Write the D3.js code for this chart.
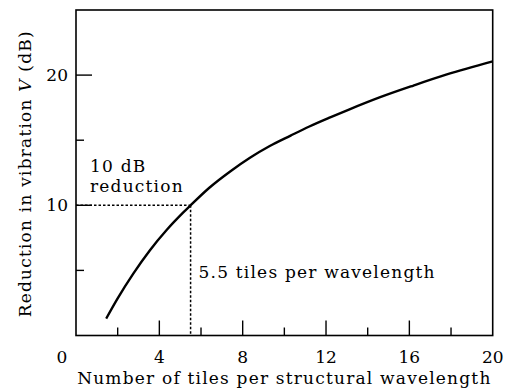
<!DOCTYPE html>
<html>
<head>
<meta charset="utf-8">
<script src="https://cdn.jsdelivr.net/npm/d3@7"></script>
<style>
  html, body { margin: 0; padding: 0; background: #fff; }
  svg { display: block; }
  text { font-family: "DejaVu Serif", "Liberation Serif", serif; fill: #000; }
</style>
</head>
<body>
<svg id="chart" width="506" height="392"></svg>
<script>
// Tiles per structural wavelength (x) and vibration reduction in dB (y)
const tiles = [1.45, 2, 2.75, 3.55, 4.35, 5.15, 5.5, 6.4, 7.4, 8.35, 9.3, 10.3, 11.2, 12.2, 13.1, 14.6, 16.2, 17.8, 20];
const reduction = [1.3, 2.85, 4.75, 6.55, 8.1, 9.45, 10, 11.35, 12.6, 13.65, 14.55, 15.35, 16.05, 16.75, 17.35, 18.3, 19.2, 20.05, 21.05];

// Marked operating point: 10 dB reduction at 5.5 tiles per wavelength
const markTiles = [5.5];
const markReduction = [10];

const xMajorTicks = [4, 8, 12, 16];
const xMinorTicks = [2, 6, 10, 14, 18];
const xTickLabels = [0, 4, 8, 12, 16, 20];
const yMajorTicks = [10, 20];
const yMinorTicks = [5, 15];
const yTickLabels = [10, 20];

const svg = d3.select("#chart");
const plotLeft = 76, plotRight = 492.7, plotTop = 10, plotBottom = 335.5;
const fs = 17, ls = 1.2;

const x = d3.scaleLinear().domain([0, 20]).range([plotLeft, plotRight]);
const y = d3.scaleLinear().domain([0, 25]).range([plotBottom, plotTop]);

// Frame
svg.append("rect")
  .attr("x", plotLeft).attr("y", plotTop)
  .attr("width", plotRight - plotLeft).attr("height", plotBottom - plotTop)
  .attr("fill", "none").attr("stroke", "#000").attr("stroke-width", 1.6);

// Inward ticks on the bottom axis
const g = svg.append("g").attr("stroke", "#000").attr("stroke-width", 1.4);
g.selectAll("line.xmaj").data(xMajorTicks).join("line")
  .attr("x1", d => x(d)).attr("x2", d => x(d))
  .attr("y1", plotBottom).attr("y2", plotBottom - 15);
g.selectAll("line.xmin").data(xMinorTicks).join("line")
  .attr("x1", d => x(d)).attr("x2", d => x(d))
  .attr("y1", plotBottom).attr("y2", plotBottom - 8);
// Inward ticks on the left axis
g.selectAll("line.ymaj").data(yMajorTicks).join("line")
  .attr("x1", plotLeft).attr("x2", plotLeft + 16)
  .attr("y1", d => y(d)).attr("y2", d => y(d));
g.selectAll("line.ymin").data(yMinorTicks).join("line")
  .attr("x1", plotLeft).attr("x2", plotLeft + 8)
  .attr("y1", d => y(d)).attr("y2", d => y(d));

// Tick labels
svg.selectAll("text.xl").data(xTickLabels).join("text")
  .attr("class", "xl")
  .attr("x", d => d === 0 ? x(0) - 14 : x(d))
  .attr("y", 363)
  .attr("text-anchor", "middle")
  .attr("font-size", fs)
  .text(d => d);
svg.selectAll("text.yl").data(yTickLabels).join("text")
  .attr("class", "yl")
  .attr("x", plotLeft - 8)
  .attr("y", d => y(d))
  .attr("dy", "0.36em")
  .attr("text-anchor", "end")
  .attr("font-size", fs)
  .text(d => d);

// Axis titles
svg.append("text")
  .attr("x", (plotLeft + plotRight) / 2)
  .attr("y", 384)
  .attr("text-anchor", "middle")
  .attr("font-size", fs)
  .attr("letter-spacing", ls)
  .text("Number of tiles per structural wavelength");

const yt = svg.append("text")
  .attr("transform", `translate(31,${(plotTop + plotBottom) / 2 + 1}) rotate(-90)`)
  .attr("text-anchor", "middle")
  .attr("font-size", fs)
  .attr("letter-spacing", ls);
yt.append("tspan").text("Reduction in vibration ");
yt.append("tspan").attr("font-style", "italic").text("V");
yt.append("tspan").text(" (dB)");

// Dotted guide lines to the marked point
const mx = x(markTiles[0]), my = y(markReduction[0]);
const dash = svg.append("g").attr("stroke", "#000").attr("stroke-width", 1.5)
  .attr("stroke-dasharray", "2.5,2");
dash.append("line").attr("x1", plotLeft).attr("x2", mx).attr("y1", my).attr("y2", my);
dash.append("line").attr("x1", mx).attr("x2", mx).attr("y1", my).attr("y2", plotBottom);

// Reduction curve
const pts = tiles.map((t, i) => [t, reduction[i]]);
svg.append("path")
  .datum(pts)
  .attr("fill", "none").attr("stroke", "#000").attr("stroke-width", 2.4)
  .attr("stroke-linecap", "butt")
  .attr("d", d3.line().x(d => x(d[0])).y(d => y(d[1])).curve(d3.curveMonotoneX));

// Annotations
const ann = svg.append("g").attr("font-size", fs).attr("letter-spacing", ls);
ann.append("text").attr("x", 90).attr("y", 172).text("10 dB");
ann.append("text").attr("x", 90).attr("y", 192).text("reduction");
ann.append("text").attr("x", mx + 8).attr("y", 278).text("5.5 tiles per wavelength");
</script>
</body>
</html>
